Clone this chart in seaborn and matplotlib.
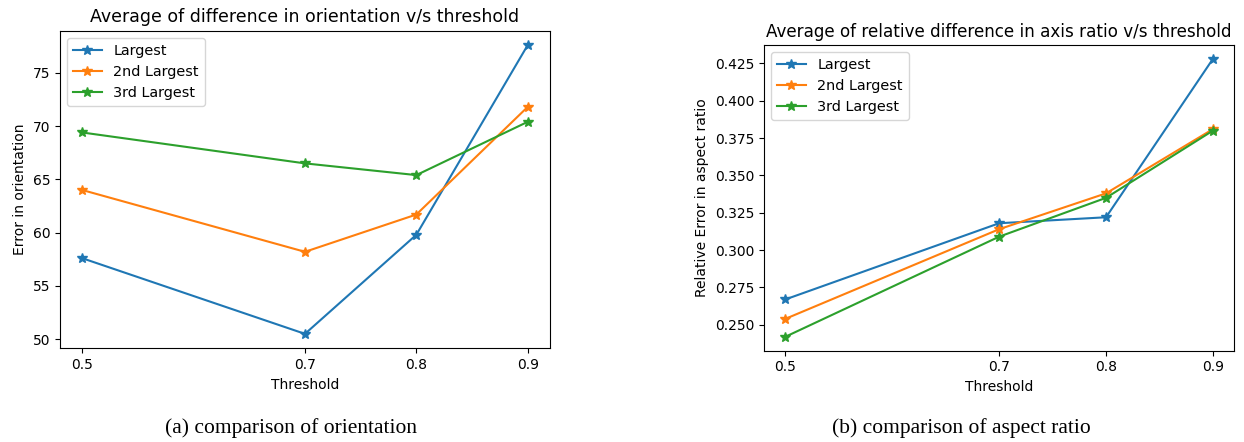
import matplotlib
matplotlib.use("Agg")
import matplotlib.pyplot as plt
import seaborn as sns
import pandas as pd

thresholds = [0.5, 0.7, 0.8, 0.9]
series_names = ["Largest", "2nd Largest", "3rd Largest"]

orient_largest = [57.6, 50.5, 59.8, 77.6]
orient_2nd = [64.0, 58.2, 61.7, 71.8]
orient_3rd = [69.4, 66.5, 65.4, 70.4]

ratio_largest = [0.267, 0.318, 0.322, 0.428]
ratio_2nd = [0.254, 0.314, 0.338, 0.381]
ratio_3rd = [0.242, 0.309, 0.335, 0.380]

colors = ["#1f77b4", "#ff7f0e", "#2ca02c"]

fig = plt.figure(figsize=(12.44, 4.42), dpi=100)
ax1 = fig.add_axes([0.0482, 0.212, 0.3939, 0.7186])
ax2 = fig.add_axes([0.6141, 0.2066, 0.3781, 0.6916])


def draw(ax, values, title, ylabel, title_size):
    for name, vals, c in zip(series_names, values, colors):
        df = pd.DataFrame({"Threshold": thresholds, "v": vals})
        sns.lineplot(data=df, x="Threshold", y="v", ax=ax, color=c, marker="*",
                     markersize=7, markeredgecolor=c, markeredgewidth=1.0,
                     linewidth=1.5, label=name)
    ax.set_xticks(thresholds)
    ax.set_xticklabels([str(t) for t in thresholds])
    ax.set_title(title, fontsize=title_size)
    ax.set_xlabel("Threshold", fontsize=10)
    ax.set_ylabel(ylabel, fontsize=10)
    ax.tick_params(labelsize=10)
    ax.legend(loc="upper left", fontsize=10.4)


draw(ax1, [orient_largest, orient_2nd, orient_3rd],
     "Average of difference in orientation v/s threshold", "Error in orientation", 12.5)
draw(ax2, [ratio_largest, ratio_2nd, ratio_3rd],
     "Average of relative difference in axis ratio v/s threshold",
     "Relative Error in aspect ratio", 12.1)

fig.text(0.234, 0.032, "(a) comparison of orientation", ha="center", va="center",
         family="Liberation Serif", fontsize=15.5)
fig.text(0.7727, 0.032, "(b) comparison of aspect ratio", ha="center", va="center",
         family="Liberation Serif", fontsize=15.5)

fig.savefig("out.png", dpi=100)
